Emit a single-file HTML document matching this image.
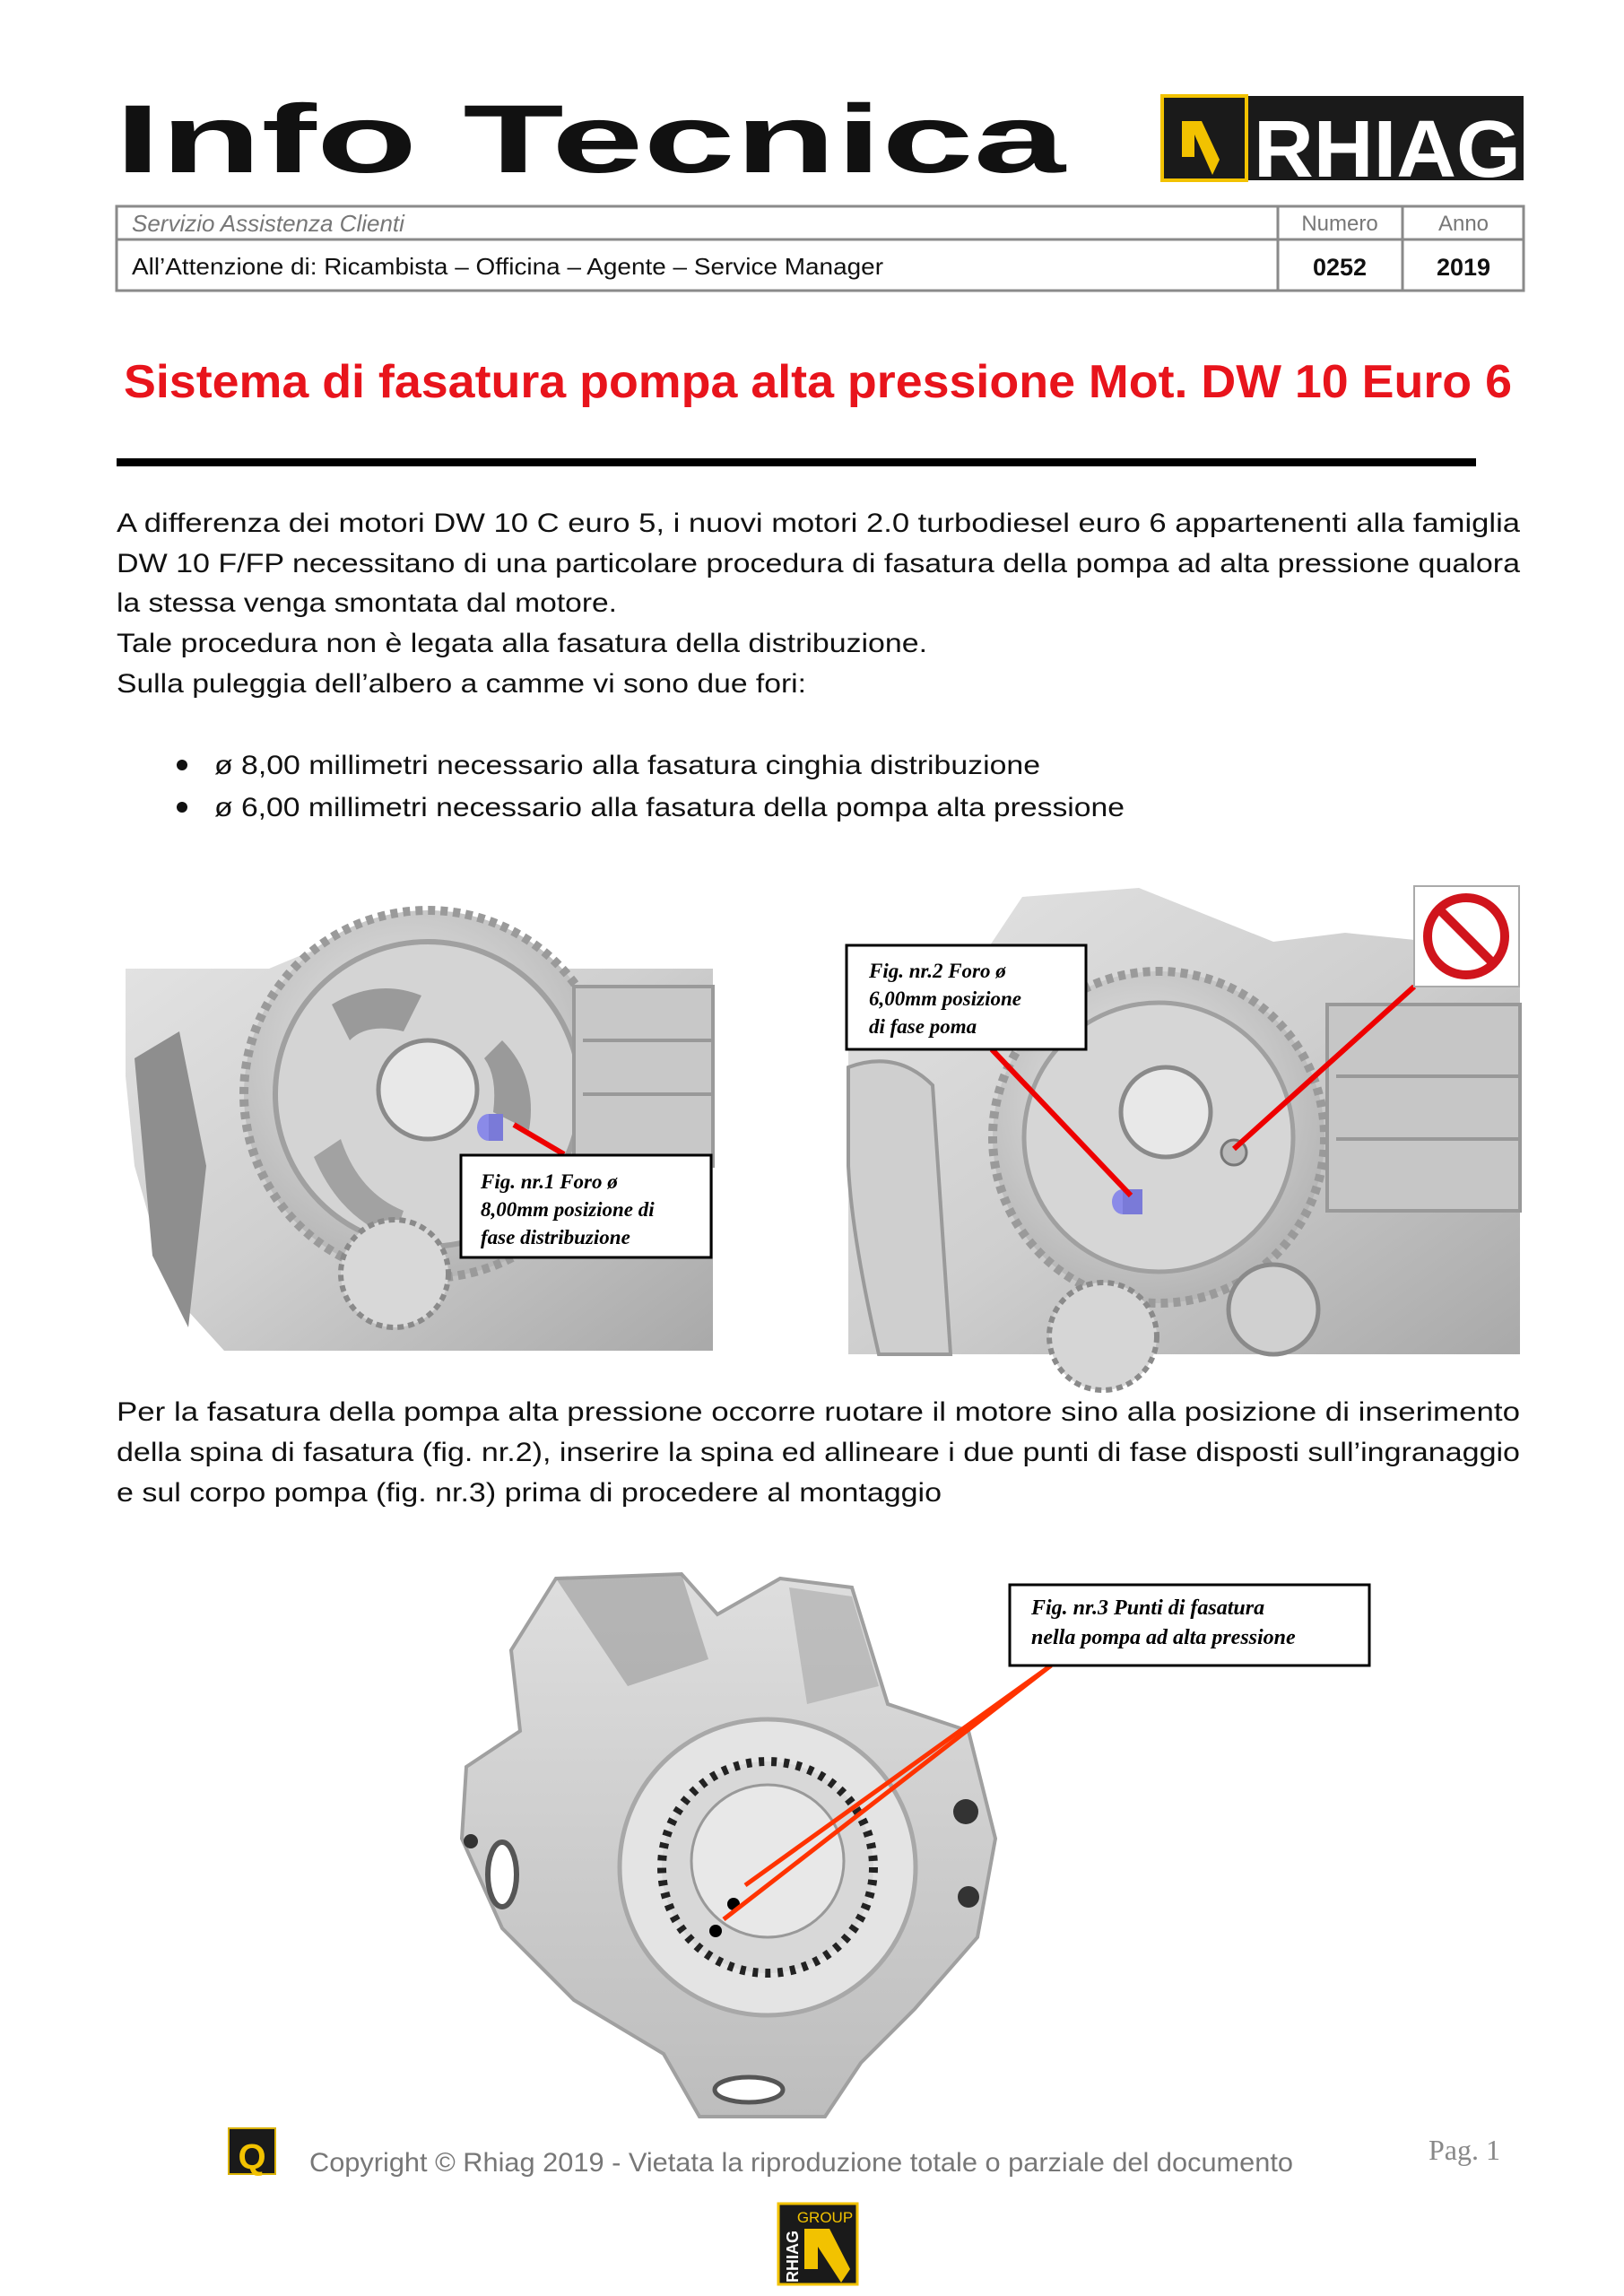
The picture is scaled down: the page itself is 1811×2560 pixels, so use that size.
<!DOCTYPE html>
<html><head><meta charset="utf-8"><style>html,body{margin:0;padding:0;background:#fff}svg{display:block}</style></head>
<body>
<svg xmlns="http://www.w3.org/2000/svg" width="1811" height="2560" viewBox="0 0 1811 2560">
<defs>
<linearGradient id="g1" x1="0" y1="0" x2="1" y2="1"><stop offset="0" stop-color="#e4e4e4"/><stop offset="0.5" stop-color="#cfcfcf"/><stop offset="1" stop-color="#a9a9a9"/></linearGradient>
<linearGradient id="g2" x1="0" y1="0" x2="0" y2="1"><stop offset="0" stop-color="#dedede"/><stop offset="1" stop-color="#bdbdbd"/></linearGradient>
<radialGradient id="gr" cx="0.45" cy="0.4" r="0.6"><stop offset="0" stop-color="#ececec"/><stop offset="1" stop-color="#b5b5b5"/></radialGradient>
</defs>
<rect width="1811" height="2560" fill="#fff"/>

<!-- Header logo text -->
<text x="128" y="192" font-family="Liberation Sans, sans-serif" font-weight="bold" font-size="108" textLength="1060" lengthAdjust="spacingAndGlyphs" fill="#111">Info Tecnica</text>
<!-- RHIAG logo -->
<rect x="1296" y="107" width="403" height="94" fill="#1a1a1a"/>
<rect x="1296" y="107" width="94" height="94" fill="#1a1a1a" stroke="#f2c200" stroke-width="4"/>
<path d="M1318 135 L1340 135 L1360 178 L1352 195 L1332 150 L1332 175 L1318 175 Z" fill="#f2c200"/>
<text x="1398" y="197" font-family="Liberation Sans, sans-serif" font-weight="bold" font-size="90" textLength="298" lengthAdjust="spacingAndGlyphs" fill="#fff">RHIAG</text>

<!-- Table -->
<g fill="none" stroke="#8a8a8a" stroke-width="3">
<rect x="130" y="230" width="1569" height="94"/>
<line x1="130" y1="267" x2="1699" y2="267"/>
<line x1="1425" y1="230" x2="1425" y2="324"/>
<line x1="1564" y1="230" x2="1564" y2="324"/>
</g>
<text x="147" y="258" font-family="Liberation Sans, sans-serif" font-style="italic" font-size="26" fill="#777">Servizio Assistenza Clienti</text>
<text x="1494" y="257" text-anchor="middle" font-family="Liberation Sans, sans-serif" font-size="24" fill="#777">Numero</text>
<text x="1632" y="257" text-anchor="middle" font-family="Liberation Sans, sans-serif" font-size="24" fill="#777">Anno</text>
<text x="147" y="306" font-family="Liberation Sans, sans-serif" font-size="26" textLength="838" lengthAdjust="spacingAndGlyphs" fill="#111">All’Attenzione di: Ricambista – Officina – Agente – Service Manager</text>
<text x="1494" y="307" text-anchor="middle" font-family="Liberation Sans, sans-serif" font-weight="bold" font-size="27" fill="#111">0252</text>
<text x="1632" y="307" text-anchor="middle" font-family="Liberation Sans, sans-serif" font-weight="bold" font-size="27" fill="#111">2019</text>

<!-- Title -->
<text x="138" y="443" font-family="Liberation Sans, sans-serif" font-weight="bold" font-size="52" textLength="1548" lengthAdjust="spacingAndGlyphs" fill="#e8141c">Sistema di fasatura pompa alta pressione Mot. DW 10 Euro 6</text>
<rect x="130" y="511" width="1516" height="9" fill="#000"/>

<!-- Paragraph -->
<g font-family="Liberation Sans, sans-serif" font-size="30" fill="#111" lengthAdjust="spacingAndGlyphs">
<text x="130" y="593" textLength="1565" lengthAdjust="spacingAndGlyphs">A differenza dei motori DW 10 C euro 5, i nuovi motori 2.0 turbodiesel euro 6 appartenenti alla famiglia</text>
<text x="130" y="638" textLength="1565" lengthAdjust="spacingAndGlyphs">DW 10 F/FP necessitano di una particolare procedura di fasatura della pompa ad alta pressione qualora</text>
<text x="130" y="682" textLength="558" lengthAdjust="spacingAndGlyphs">la stessa venga smontata dal motore.</text>
<text x="130" y="727" textLength="904" lengthAdjust="spacingAndGlyphs">Tale procedura non è legata alla fasatura della distribuzione.</text>
<text x="130" y="772" textLength="769" lengthAdjust="spacingAndGlyphs">Sulla puleggia dell’albero a camme vi sono due fori:</text>
<circle cx="203" cy="853" r="6" fill="#111"/>
<circle cx="203" cy="900" r="6" fill="#111"/>
<text x="239" y="863" textLength="921" lengthAdjust="spacingAndGlyphs">ø 8,00 millimetri necessario alla fasatura cinghia distribuzione</text>
<text x="239" y="910" textLength="1015" lengthAdjust="spacingAndGlyphs">ø 6,00 millimetri necessario alla fasatura della pompa alta pressione</text>
</g>

<!-- Left engine image -->
<g>
<path d="M140 1080 L300 1080 L420 1030 L560 1040 L620 1080 L795 1080 L795 1506 L250 1506 L190 1440 L150 1300 L140 1200 Z" fill="url(#g1)"/>
<path d="M150 1180 L200 1150 L230 1300 L210 1480 L170 1400 Z" fill="#8e8e8e"/>
<circle cx="477" cy="1220" r="205" fill="url(#gr)" stroke="#9a9a9a" stroke-width="10" stroke-dasharray="8 6"/>
<circle cx="477" cy="1220" r="170" fill="#d4d4d4" stroke="#a0a0a0" stroke-width="6"/>
<circle cx="477" cy="1215" r="55" fill="#e8e8e8" stroke="#8a8a8a" stroke-width="5"/>
<path d="M370 1120 Q420 1090 470 1110 L450 1150 Q410 1140 390 1160 Z" fill="#9a9a9a"/>
<path d="M560 1160 Q600 1200 590 1260 L550 1240 Q555 1200 540 1180 Z" fill="#9a9a9a"/>
<path d="M380 1270 Q400 1330 450 1350 L440 1380 Q380 1360 350 1290 Z" fill="#a2a2a2"/>
<circle cx="440" cy="1420" r="60" fill="#d8d8d8" stroke="#8a8a8a" stroke-width="6" stroke-dasharray="7 5"/>
<rect x="640" y="1100" width="155" height="200" fill="#c8c8c8" stroke="#9a9a9a" stroke-width="4"/>
<line x1="650" y1="1160" x2="795" y2="1160" stroke="#999" stroke-width="4"/>
<line x1="650" y1="1220" x2="795" y2="1220" stroke="#999" stroke-width="4"/>
<ellipse cx="545" cy="1257" rx="13" ry="15" fill="#8a8ae8"/>
<rect x="545" y="1242" width="16" height="30" fill="#7a7ad8"/>
<line x1="573" y1="1254" x2="629" y2="1287" stroke="#e00" stroke-width="6"/>
<rect x="514" y="1288" width="279" height="114" fill="#fff" stroke="#000" stroke-width="3"/>
<g font-family="Liberation Serif, serif" font-style="italic" font-weight="bold" font-size="23" fill="#000">
<text x="536" y="1325">Fig. nr.1 Foro ø</text>
<text x="536" y="1356">8,00mm posizione di</text>
<text x="536" y="1387">fase distribuzione</text>
</g>
</g>

<!-- Right engine image -->
<g>
<path d="M946 1100 L1080 1090 L1140 1000 L1270 990 L1420 1050 L1500 1040 L1695 1060 L1695 1510 L946 1510 Z" fill="url(#g1)"/>
<path d="M946 1190 Q1000 1170 1040 1210 L1060 1510 L980 1510 Q950 1380 946 1300 Z" fill="#cfcfcf" stroke="#9a9a9a" stroke-width="4"/>
<circle cx="1292" cy="1268" r="185" fill="url(#gr)" stroke="#9a9a9a" stroke-width="10" stroke-dasharray="8 6"/>
<circle cx="1292" cy="1268" r="150" fill="#d6d6d6" stroke="#a0a0a0" stroke-width="5"/>
<circle cx="1300" cy="1240" r="50" fill="#e8e8e8" stroke="#8a8a8a" stroke-width="5"/>
<circle cx="1376" cy="1285" r="14" fill="#bbb" stroke="#777" stroke-width="3"/>
<rect x="1480" y="1120" width="215" height="230" fill="#c6c6c6" stroke="#999" stroke-width="4"/>
<line x1="1490" y1="1200" x2="1695" y2="1200" stroke="#999" stroke-width="4"/>
<line x1="1490" y1="1270" x2="1695" y2="1270" stroke="#999" stroke-width="4"/>
<circle cx="1420" cy="1460" r="50" fill="#d0d0d0" stroke="#8a8a8a" stroke-width="5"/>
<circle cx="1230" cy="1490" r="60" fill="#d6d6d6" stroke="#8a8a8a" stroke-width="6" stroke-dasharray="7 5"/>
<ellipse cx="1252" cy="1340" rx="12" ry="14" fill="#8a8ae8"/>
<rect x="1252" y="1326" width="22" height="28" fill="#7a7ad8"/>
<line x1="1106" y1="1170" x2="1261" y2="1333" stroke="#e00" stroke-width="6"/>
<line x1="1577" y1="1100" x2="1376" y2="1281" stroke="#e00" stroke-width="6"/>
<rect x="1577" y="988" width="117" height="112" fill="#fff" stroke="#aaa" stroke-width="2"/>
<circle cx="1635" cy="1044" r="43" fill="none" stroke="#d0141c" stroke-width="10"/>
<line x1="1606" y1="1015" x2="1664" y2="1073" stroke="#d0141c" stroke-width="10"/>
<rect x="944" y="1054" width="267" height="116" fill="#fff" stroke="#000" stroke-width="3"/>
<g font-family="Liberation Serif, serif" font-style="italic" font-weight="bold" font-size="23" fill="#000">
<text x="969" y="1090">Fig. nr.2 Foro ø</text>
<text x="969" y="1121">6,00mm posizione</text>
<text x="969" y="1152">di fase poma</text>
</g>
</g>

<!-- Paragraph 2 -->
<g font-family="Liberation Sans, sans-serif" font-size="30" fill="#111">
<text x="130" y="1584" textLength="1565" lengthAdjust="spacingAndGlyphs">Per la fasatura della pompa alta pressione occorre ruotare il motore sino alla posizione di inserimento</text>
<text x="130" y="1629" textLength="1565" lengthAdjust="spacingAndGlyphs">della spina di fasatura (fig. nr.2), inserire la spina ed allineare i due punti di fase disposti sull’ingranaggio</text>
<text x="130" y="1674" textLength="920" lengthAdjust="spacingAndGlyphs">e sul corpo pompa (fig. nr.3) prima di procedere al montaggio</text>
</g>

<!-- Pump -->
<g>
<path d="M620 1760 L760 1755 L800 1800 L870 1760 L950 1770 L990 1900 L1080 1930 L1110 2050 L1090 2160 L1020 2240 L960 2300 L920 2360 L780 2360 L740 2290 L640 2230 L560 2150 L515 2050 L520 1970 L580 1930 L570 1840 Z" fill="url(#g2)" stroke="#a0a0a0" stroke-width="4"/>
<path d="M620 1760 L760 1755 L790 1850 L700 1880 Z" fill="#9a9a9a" opacity="0.6"/>
<path d="M880 1770 L950 1780 L980 1880 L900 1900 Z" fill="#a8a8a8" opacity="0.6"/>
<circle cx="856" cy="2082" r="165" fill="#e4e4e4" stroke="#a8a8a8" stroke-width="5"/>
<circle cx="856" cy="2082" r="118" fill="#d8d8d8" stroke="#222" stroke-width="10" stroke-dasharray="6 8"/>
<circle cx="856" cy="2075" r="85" fill="#e8e8e8" stroke="#999" stroke-width="3"/>
<ellipse cx="560" cy="2090" rx="16" ry="36" fill="#fff" stroke="#555" stroke-width="6"/>
<circle cx="1077" cy="2020" r="14" fill="#333"/>
<circle cx="1080" cy="2115" r="12" fill="#333"/>
<circle cx="525" cy="2053" r="8" fill="#333"/>
<ellipse cx="835" cy="2330" rx="38" ry="14" fill="#fff" stroke="#555" stroke-width="5"/>
<circle cx="818" cy="2123" r="7" fill="#000"/>
<circle cx="798" cy="2153" r="7" fill="#000"/>
<line x1="1172" y1="1857" x2="831" y2="2102" stroke="#ff3300" stroke-width="5"/>
<line x1="1172" y1="1857" x2="807" y2="2140" stroke="#ff3300" stroke-width="5"/>
<rect x="1126" y="1767" width="401" height="90" fill="#fff" stroke="#000" stroke-width="3"/>
<g font-family="Liberation Serif, serif" font-style="italic" font-weight="bold" font-size="24" fill="#000">
<text x="1150" y="1800">Fig. nr.3 Punti di fasatura</text>
<text x="1150" y="1833">nella pompa ad alta pressione</text>
</g>
</g>

<!-- Footer -->
<rect x="255" y="2373" width="52" height="51" fill="#1a1a1a" stroke="#d8b000" stroke-width="2"/>
<text x="281" y="2418" text-anchor="middle" font-family="Liberation Sans, sans-serif" font-weight="bold" font-size="40" fill="#f2c200">Q</text>
<text x="345" y="2421" font-family="Liberation Sans, sans-serif" font-size="30" textLength="1097" lengthAdjust="spacingAndGlyphs" fill="#777">Copyright © Rhiag 2019 - Vietata la riproduzione totale o parziale del documento</text>
<text x="1593" y="2408" font-family="Liberation Serif, serif" font-size="32" fill="#888">Pag. 1</text>
<rect x="868" y="2457" width="88" height="90" fill="#1a1a1a" stroke="#f2c200" stroke-width="3"/>
<text x="920" y="2478" text-anchor="middle" font-family="Liberation Sans, sans-serif" font-size="17" fill="#f2c200">GROUP</text>
<path d="M897 2485 L925 2485 L948 2530 L938 2545 L912 2505 L912 2530 L897 2530 Z" fill="#f2c200"/>
<text x="0" y="0" transform="translate(890 2545) rotate(-90)" font-family="Liberation Sans, sans-serif" font-weight="bold" font-size="18" fill="#fff">RHIAG</text>
</svg>
</body></html>
